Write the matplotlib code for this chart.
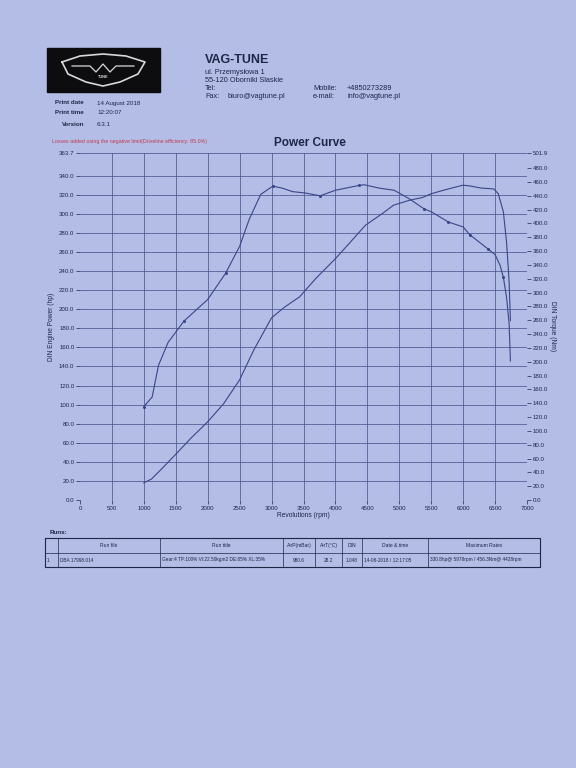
"""
plot.py
Dyno sheet recreation: VAG-TUNE power curve (DIN power + DIN torque).
Run: python plot.py
"""

import matplotlib
matplotlib.use("Agg")
import matplotlib.pyplot as plt
import numpy as np

plt.rcParams["font.family"] = ["Liberation Sans", "DejaVu Sans"]

# ─── DATA ────────────────────────────────────────────────────────────────────
power_rpm = [1000, 1120, 1270, 1500, 1740, 2000, 2250, 2500, 2720, 3000, 3200,
             3440, 3690, 4000, 4230, 4470, 4730, 4910, 5150, 5360, 5500, 5710,
             6000, 6120, 6280, 6480, 6550, 6630, 6680, 6720, 6740]
power_hp = [18, 22, 32, 48, 65, 82, 101, 126, 157, 191, 202,
            213, 232, 253, 270, 288, 300, 309, 314, 317, 321, 325,
            330, 329, 327, 326, 321, 302, 270, 229, 188]

torque_rpm = [1000, 1130, 1230, 1380, 1630, 2000, 2280, 2500, 2650, 2830, 3020,
              3170, 3330, 3530, 3760, 4000, 4370, 4450, 4690, 4920, 5150, 5390,
              5500, 5770, 6000, 6100, 6390, 6500, 6580, 6630, 6680, 6720, 6740]
torque_nm = [135, 149, 195, 228, 259, 290, 328, 367, 406, 442, 454,
             451, 446, 444, 440, 448, 455, 456, 451, 448, 436, 421,
             417, 402, 395, 384, 363, 355, 339, 322, 293, 255, 201]
torque_marks = [0, 4, 6, 10, 14, 16, 21, 23, 25, 26, 29]

power_ticks = [0, 20, 40, 60, 80, 100, 120, 140, 160, 180, 200, 220, 240, 260,
               280, 300, 320, 340, 363.7]
torque_ticks = [0, 20, 40, 60, 80, 100, 120, 140, 160, 180, 200, 220, 240, 260,
                280, 300, 320, 340, 360, 380, 400, 420, 440, 460, 480, 501.9]
rpm_ticks = list(range(0, 7001, 500))

table_header = ["", "Run file", "Run title", "AirP(mBar)", "AirT(°C)", "DIN",
                "Date & time", "Maximum Rates"]
table_row = ["1", "DBA 17998.014", "Gear:4 TP:100% VI:22.50kgm2 DE:85% XL:35%",
             "980.6", "28.2", "1.048", "14-08-2018 / 12:17:05",
             "330.8hp@ 5978rpm / 456.3Nm@ 4428rpm"]

# ─── STYLE ───────────────────────────────────────────────────────────────────
PAPER = "#b3bde6"
INK = "#1f2748"
LINE = "#3a4689"
GRID = "#4c5690"

fig = plt.figure(figsize=(5.76, 7.68), dpi=100, facecolor=PAPER)

# overlay in pixel coordinates for header / table
ov = fig.add_axes([0, 0, 1, 1], zorder=0)
ov.set_xlim(0, 576); ov.set_ylim(768, 0); ov.axis("off")

# logo
ov.add_patch(plt.Rectangle((47, 48), 113, 44, color="#0d0d0f"))
sx = [62, 80, 103, 126, 145, 138, 120, 103, 86, 68, 62]
sy = [62, 56, 54, 56, 62, 74, 82, 86, 82, 74, 62]
ov.plot(sx, sy, color="#d8d8dc", lw=1.2)
ov.plot([72, 90, 96, 103, 110, 116, 134], [66, 66, 72, 64, 72, 66, 66],
        color="#d8d8dc", lw=0.9)
ov.text(103, 77, "TUNE", color="#d8d8dc", fontsize=2.8, ha="center",
        va="center", fontweight="bold")

ov.text(205, 60, "VAG-TUNE", fontsize=9, fontweight="bold", color=INK,
        va="center")
for i, s in enumerate(["ul. Przemysłowa 1", "55-120 Oborniki Slaskie", "Tel:"]):
    ov.text(205, 73 + i * 8, s, fontsize=5.3, color=INK, va="center")
ov.text(205, 97, "Fax:", fontsize=5.3, color=INK, va="center")
ov.text(228, 97, "biuro@vagtune.pl", fontsize=5.3, color=INK, va="center")
ov.text(313, 88, "Mobile:", fontsize=5.3, color=INK, va="center")
ov.text(347, 88, "+4850273289", fontsize=5.3, color=INK, va="center")
ov.text(313, 96, "e-mail:", fontsize=5.3, color=INK, va="center")
ov.text(347, 96, "info@vagtune.pl", fontsize=5.3, color=INK, va="center")

ov.text(55, 103, "Print date", fontsize=4.5, fontweight="bold", color=INK, va="center")
ov.text(97, 103, "14 August 2018", fontsize=4.5, color=INK, va="center")
ov.text(55, 113, "Print time", fontsize=4.5, fontweight="bold", color=INK, va="center")
ov.text(97, 113, "12:20:07", fontsize=4.5, color=INK, va="center")
ov.text(84, 124, "Version", fontsize=4.5, fontweight="bold", color=INK,
        va="center", ha="right")
ov.text(97, 124, "6.3.1", fontsize=4.5, color=INK, va="center")

ov.text(52, 141, "Losses added using the negative limit(Driveline efficiency: 85.0%)",
        fontsize=3.8, color="#c23b4e", va="center")
ov.text(310, 143, "Power Curve", fontsize=8.5, fontweight="bold", color=INK,
        va="center", ha="center")

# ─── CHART ───────────────────────────────────────────────────────────────────
ax = fig.add_axes([80 / 576, 1 - 500 / 768, 447 / 576, 347 / 768], zorder=2)
ax.patch.set_alpha(0)
ax2 = ax.twinx()

ax.set_xlim(0, 7000)
ax.set_ylim(0, 363.7)
ax2.set_ylim(0, 501.9)

for v in rpm_ticks[1:-1]:
    ax.axvline(v, color=GRID, lw=0.55)
for v in power_ticks[1:]:
    ax.axhline(v, color=GRID, lw=0.55)

ax.plot(power_rpm, power_hp, color=LINE, lw=0.8)
ax2.plot(torque_rpm, torque_nm, color=LINE, lw=0.8, marker="o", ms=1.2,
         markevery=torque_marks)

ax.set_xticks(rpm_ticks)
ax.set_xticklabels([str(v) for v in rpm_ticks])
ax.set_yticks(power_ticks)
ax.set_yticklabels([f"{v:.1f}" for v in power_ticks])
ax2.set_yticks(torque_ticks)
ax2.set_yticklabels([f"{v:.1f}" for v in torque_ticks])

for a in (ax, ax2):
    for s in a.spines.values():
        s.set_visible(False)
    a.tick_params(labelsize=4.4, colors=INK, length=3, width=0.5, pad=1)

ax.set_xlabel("Revolutions (rpm)", fontsize=4.8, color=INK, labelpad=1)
ax.set_ylabel("DIN Engine Power (hp)", fontsize=4.8, color=INK, labelpad=3)
ax2.set_ylabel("DIN Torque (Nm)", fontsize=4.8, color=INK, rotation=270,
               labelpad=6)

# ─── RUNS TABLE ──────────────────────────────────────────────────────────────
ov.text(50, 533, "Runs:", fontsize=4.5, fontweight="bold", color=INK, va="center")
col_x = [45, 58, 160, 283, 315, 342, 362, 428, 540]
top, mid, bot = 538, 553, 567
ov.plot([col_x[0], col_x[-1], col_x[-1], col_x[0], col_x[0]],
        [top, top, bot, bot, top], color=INK, lw=0.8)
ov.plot([col_x[0], col_x[-1]], [mid, mid], color=INK, lw=0.5)
for x in col_x[1:-1]:
    ov.plot([x, x], [top, bot], color=INK, lw=0.5)
for i, h in enumerate(table_header):
    ov.text((col_x[i] + col_x[i + 1]) / 2, (top + mid) / 2, h, fontsize=3.6,
            color=INK, ha="center", va="center")
for i, c in enumerate(table_row):
    if i in (0, 1, 2, 6, 7):
        ov.text(col_x[i] + 2, (mid + bot) / 2, c, fontsize=3.4, color=INK,
                ha="left", va="center")
    else:
        ov.text((col_x[i] + col_x[i + 1]) / 2, (mid + bot) / 2, c, fontsize=3.4,
                color=INK, ha="center", va="center")

plt.savefig("out.png", dpi=100, facecolor=PAPER)
plt.close()
